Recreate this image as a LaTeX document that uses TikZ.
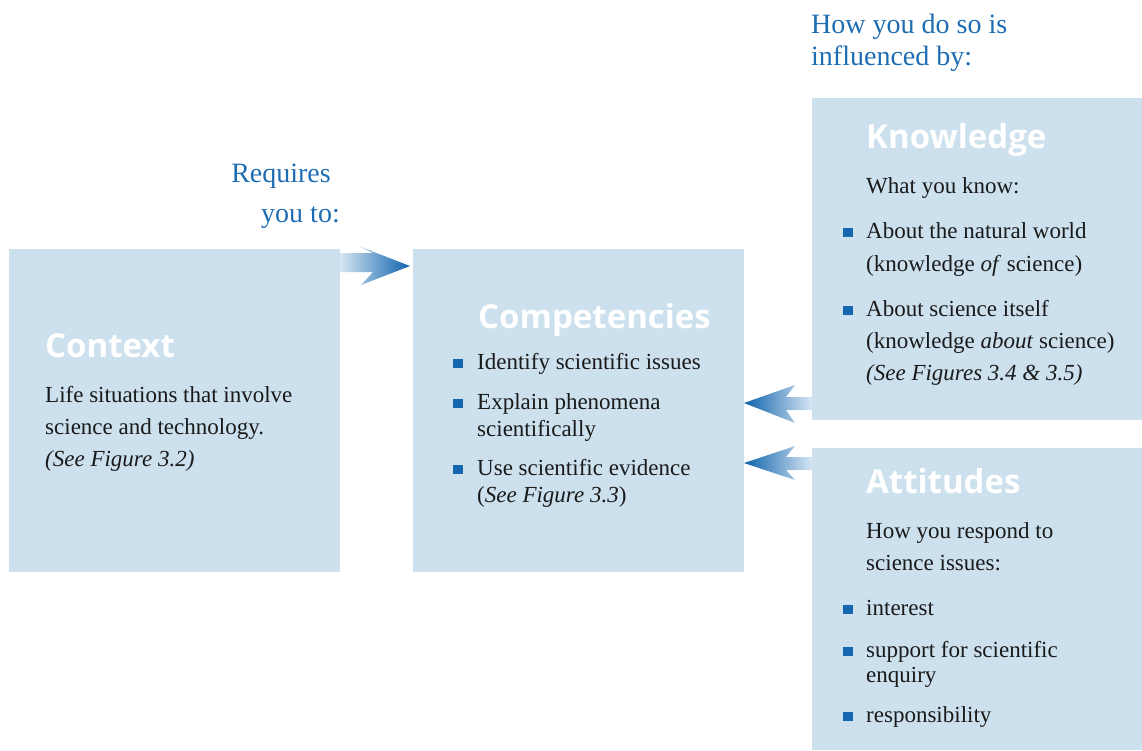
\documentclass[tikz,border=0pt]{standalone}
\usepackage{fontspec}
\setmainfont{Liberation Serif}
\newfontfamily\hfont{Open Sans}
\definecolor{boxfill}{HTML}{CCE0EE}
\definecolor{bluetxt}{HTML}{1E6DB2}
\definecolor{bul}{HTML}{1466AF}
\definecolor{txt}{HTML}{1A1A1A}
\definecolor{arrdark}{HTML}{0D62AC}
\definecolor{arrlight}{HTML}{D6E6F3}
\tikzset{
  panel/.style={fill=boxfill, draw=none},
  ttl/.style={anchor=base west, inner sep=0, text=white, font=\hfont\bfseries\fontsize{33}{38}\selectfont},
  body/.style={anchor=base west, inner sep=0, text=txt, font=\fontsize{23}{27}\selectfont},
  lead/.style={inner sep=0, text=bluetxt, font=\fontsize{28}{32}\selectfont},
}
\newcommand{\bsq}[2]{\fill[bul] (#1,#2-10) rectangle (#1+10,#2-1);}
\begin{document}
\begin{tikzpicture}[x=1pt,y=-1pt]
\useasboundingbox (0,0) rectangle (1142,750);
% panels
\fill[panel] (9,249) rectangle (340,572);
\fill[panel] (413,249) rectangle (744,572);
\fill[panel] (812,98) rectangle (1142,420);
\fill[panel] (812,448) rectangle (1142,750);
% arrows
\shade[left color=arrlight, right color=arrdark]
  (340,253) -- (373,253) -- (361,247) -- (410,266) -- (361,285) -- (373,272) -- (340,272) -- cycle;
\shade[left color=arrdark, right color=arrlight]
  (812,397) -- (786,397) -- (795,385) -- (744,403) -- (795,423) -- (786,410) -- (812,410) -- cycle;
\shade[left color=arrdark, right color=arrlight]
  (812,457) -- (786,457) -- (795,446) -- (744,463) -- (795,480) -- (786,470) -- (812,470) -- cycle;
% lead texts
\node[lead, anchor=base east] (req1) at (331,182) {Requires};
\node[lead, anchor=base east] (req2) at (340,222) {you to:};
\node[lead, anchor=base west] (how1) at (811,33) {How you do so is};
\node[lead, anchor=base west] (how2) at (811,65) {influenced by:};
% Context
\node[ttl] (ctxT) at (45,357) {Context};
\node[body] (c1) at (45,402) {Life situations that involve};
\node[body] (c2) at (45,434) {science and technology.};
\node[body] (c3) at (45,466) {\itshape (See Figure 3.2)};
% Competencies
\node[ttl] (cmpT) at (478,328) {Competencies};
\bsq{453}{369}
\node[body] (m1) at (477,369) {Identify scientific issues};
\bsq{453}{409}
\node[body] (m2) at (477,409) {Explain phenomena};
\node[body] (m3) at (477,436) {scientifically};
\bsq{453}{475}
\node[body] (m4) at (477,475) {Use scientific evidence};
\node[body] (m5) at (477,502) {(\textit{See Figure 3.3})};
% Knowledge
\node[ttl] (knT) at (866,148) {Knowledge};
\node[body] (k0) at (866,193) {What you know:};
\bsq{843}{238}
\node[body] (k1) at (866,238) {About the natural world};
\node[body] (k2) at (866,271) {(knowledge \textit{of} science)};
\bsq{843}{316}
\node[body] (k3) at (866,316) {About science itself};
\node[body] (k4) at (866,348) {(knowledge \textit{about} science)};
\node[body] (k5) at (866,380) {\itshape (See Figures 3.4 \& 3.5)};
% Attitudes
\node[ttl] (atT) at (866,493) {Attitudes};
\node[body] (a0) at (866,538) {How you respond to};
\node[body] (a1) at (866,570) {science issues:};
\bsq{843}{615}
\node[body] (a2) at (866,615) {interest};
\bsq{843}{657}
\node[body] (a3) at (866,657) {support for scientific};
\node[body] (a4) at (866,682) {enquiry};
\bsq{843}{722}
\node[body] (a5) at (866,722) {responsibility};
\end{tikzpicture}
\end{document}
